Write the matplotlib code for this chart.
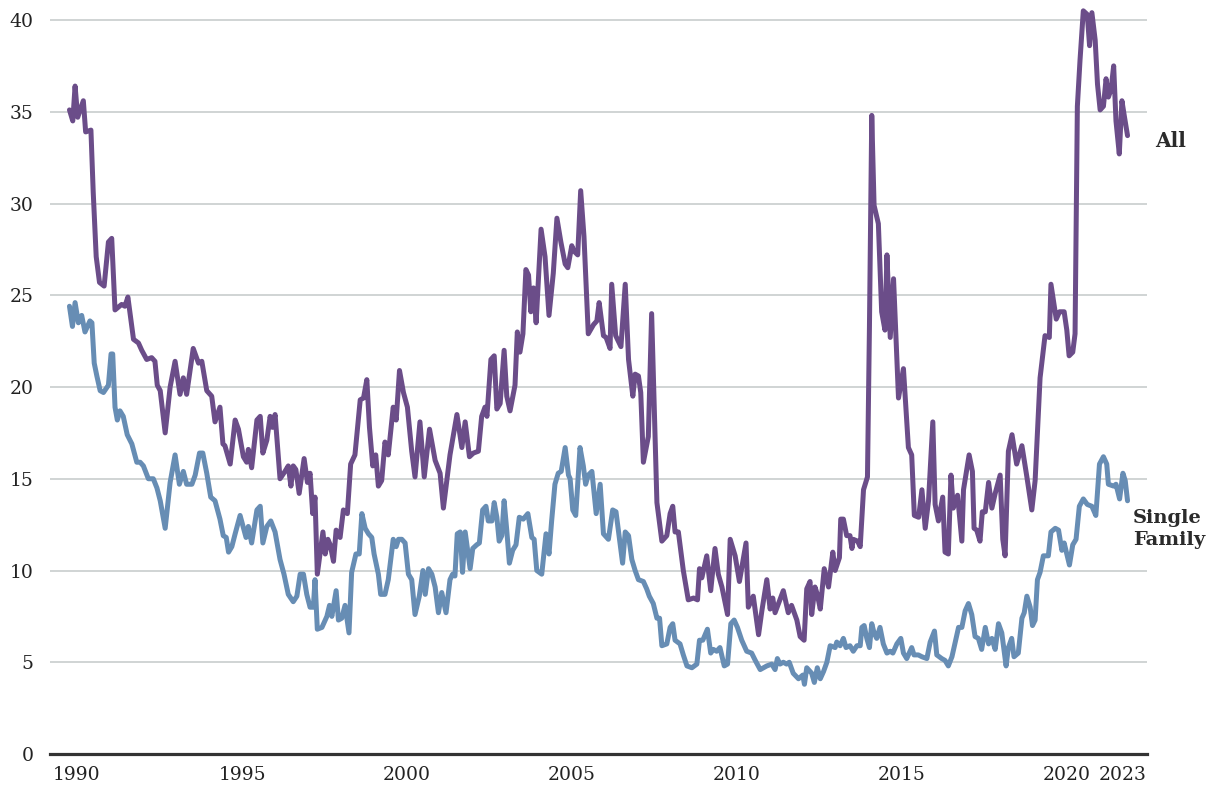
import matplotlib
matplotlib.use("Agg")
import matplotlib.pyplot as plt

# ---------------- data (decimal-year positions, values) ----------------
all_years = [1989.77, 1989.87, 1989.94, 1990.02, 1990.19, 1990.26, 1990.42, 1990.49, 1990.58, 1990.68,
             1990.82, 1990.95, 1991.05, 1991.15, 1991.35, 1991.45, 1991.54, 1991.71, 1991.86, 1991.96,
             1992.11, 1992.26, 1992.36, 1992.43, 1992.52, 1992.67, 1992.82, 1992.97, 1993.12, 1993.22,
             1993.32, 1993.52, 1993.68, 1993.78, 1993.93, 1994.08, 1994.18, 1994.33, 1994.42, 1994.48,
             1994.64, 1994.79, 1994.89, 1995.04, 1995.14, 1995.19, 1995.29, 1995.45, 1995.55, 1995.63,
             1995.75, 1995.85, 1995.92, 1996.00, 1996.15, 1996.30, 1996.40, 1996.48, 1996.55, 1996.63,
             1996.73, 1996.88, 1996.98, 1997.06, 1997.14, 1997.21, 1997.28, 1997.45, 1997.52, 1997.60,
             1997.67, 1997.77, 1997.85, 1997.97, 1998.07, 1998.19, 1998.29, 1998.42, 1998.58, 1998.68,
             1998.78, 1998.86, 1998.96, 1999.05, 1999.13, 1999.23, 1999.33, 1999.43, 1999.58, 1999.67,
             1999.77, 1999.89, 2000.01, 2000.14, 2000.24, 2000.39, 2000.52, 2000.68, 2000.85, 2001.00,
             2001.10, 2001.30, 2001.51, 2001.66, 2001.76, 2001.89, 2002.01, 2002.16, 2002.26, 2002.36,
             2002.42, 2002.54, 2002.64, 2002.72, 2002.82, 2002.94, 2003.02, 2003.12, 2003.27, 2003.34,
             2003.42, 2003.51, 2003.60, 2003.68, 2003.75, 2003.83, 2003.91, 2004.06, 2004.18, 2004.30,
             2004.43, 2004.54, 2004.66, 2004.79, 2004.87, 2004.99, 2005.06, 2005.17, 2005.26, 2005.36,
             2005.49, 2005.65, 2005.75, 2005.82, 2005.95, 2006.03, 2006.15, 2006.20, 2006.32, 2006.48,
             2006.61, 2006.71, 2006.84, 2006.91, 2007.01, 2007.08, 2007.16, 2007.31, 2007.41, 2007.57,
             2007.72, 2007.87, 2007.97, 2008.05, 2008.12, 2008.22, 2008.37, 2008.52, 2008.68, 2008.80,
             2008.86, 2008.93, 2009.08, 2009.20, 2009.33, 2009.43, 2009.54, 2009.71, 2009.79, 2009.94,
             2010.07, 2010.27, 2010.34, 2010.49, 2010.65, 2010.75, 2010.90, 2011.00, 2011.08, 2011.15,
             2011.40, 2011.55, 2011.65, 2011.81, 2011.91, 2012.03, 2012.11, 2012.21, 2012.26, 2012.36,
             2012.43, 2012.52, 2012.64, 2012.77, 2012.90, 2012.97, 2013.10, 2013.14, 2013.22, 2013.32,
             2013.42, 2013.48, 2013.52, 2013.65, 2013.73, 2013.83, 2013.95, 2014.01, 2014.08, 2014.15,
             2014.28, 2014.38, 2014.48, 2014.54, 2014.64, 2014.74, 2014.89, 2015.04, 2015.19, 2015.29,
             2015.37, 2015.50, 2015.60, 2015.70, 2015.80, 2015.93, 2016.00, 2016.10, 2016.23, 2016.30,
             2016.40, 2016.48, 2016.55, 2016.68, 2016.81, 2016.86, 2017.03, 2017.13, 2017.18, 2017.26,
             2017.36, 2017.43, 2017.52, 2017.62, 2017.72, 2017.82, 2017.97, 2018.05, 2018.12, 2018.22,
             2018.33, 2018.47, 2018.63, 2018.78, 2018.93, 2019.03, 2019.18, 2019.33, 2019.46, 2019.51,
             2019.67, 2019.77, 2019.91, 2019.99, 2020.06, 2020.17, 2020.24, 2020.31, 2020.39, 2020.49,
             2020.61, 2020.68, 2020.75, 2020.85, 2020.92, 2021.00, 2021.10, 2021.18, 2021.25, 2021.33,
             2021.41, 2021.48, 2021.58, 2021.66, 2021.73, 2021.83]
all_vals = [35.1, 34.5, 36.4, 34.7, 35.6, 33.9, 34.0, 30.6, 27.1, 25.7,
            25.5, 27.9, 28.1, 24.2, 24.5, 24.4, 24.9, 22.6, 22.4, 22.0,
            21.5, 21.6, 21.4, 20.1, 19.8, 17.5, 20.0, 21.4, 19.6, 20.5,
            19.6, 22.1, 21.3, 21.4, 19.8, 19.5, 18.1, 18.9, 16.9, 16.8,
            15.8, 18.2, 17.7, 16.2, 15.9, 16.6, 15.6, 18.2, 18.4, 16.4,
            17.1, 18.4, 17.8, 18.5, 15.0, 15.4, 15.7, 14.6, 15.7, 15.5,
            14.2, 16.1, 14.8, 15.3, 13.1, 14.0, 9.8, 12.1, 10.9, 11.7,
            11.4, 10.5, 12.2, 11.8, 13.3, 13.1, 15.8, 16.3, 19.3, 19.4,
            20.4, 17.8, 15.7, 16.3, 14.6, 14.9, 17.0, 16.3, 18.9, 18.2,
            20.9, 19.7, 18.9, 16.5, 15.1, 18.1, 15.1, 17.7, 16.0, 15.3,
            13.4, 16.3, 18.5, 16.7, 18.1, 16.2, 16.4, 16.5, 18.4, 18.9,
            18.4, 21.5, 21.7, 18.8, 19.1, 22.0, 19.5, 18.7, 20.1, 23.0,
            21.9, 22.9, 26.4, 26.1, 24.1, 25.4, 23.5, 28.6, 27.1, 23.9,
            26.2, 29.2, 27.9, 26.7, 26.5, 27.7, 27.4, 27.2, 30.7, 28.2,
            22.9, 23.4, 23.6, 24.6, 22.8, 22.7, 22.1, 25.6, 22.8, 22.2,
            25.6, 21.5, 19.5, 20.7, 20.6, 19.7, 15.9, 17.3, 24.0, 13.7,
            11.6, 11.9, 13.1, 13.5, 12.1, 12.1, 10.0, 8.4, 8.5, 8.4,
            10.1, 9.6, 10.8, 8.9, 11.2, 9.8, 9.1, 7.6, 11.7, 10.8,
            9.4, 11.5, 8.0, 8.6, 6.5, 7.8, 9.5, 7.9, 8.5, 7.7,
            8.9, 7.7, 8.1, 7.3, 6.4, 6.2, 9.0, 9.4, 7.6, 9.1,
            8.7, 7.9, 10.1, 9.1, 11.0, 10.0, 10.7, 12.8, 12.8, 11.9,
            11.9, 11.2, 11.7, 11.6, 11.3, 14.4, 15.1, 23.3, 34.8, 29.9,
            28.9, 24.1, 23.1, 27.2, 22.7, 25.9, 19.4, 21.0, 16.7, 16.3,
            13.0, 12.9, 14.4, 12.3, 13.8, 18.1, 13.6, 12.7, 14.0, 11.0,
            10.9, 15.2, 13.4, 14.1, 11.6, 14.4, 16.3, 15.4, 12.3, 12.2,
            11.6, 13.2, 13.2, 14.8, 13.4, 14.2, 15.2, 11.7, 10.8, 16.5,
            17.4, 15.8, 16.8, 15.1, 13.3, 14.9, 20.5, 22.8, 22.7, 25.6,
            23.7, 24.1, 24.1, 23.1, 21.7, 21.9, 22.9, 35.3, 37.8, 40.5,
            40.3, 38.6, 40.4, 38.9, 36.5, 35.1, 35.3, 36.8, 35.8, 36.2,
            37.5, 34.5, 32.7, 35.6, 34.8, 33.7]

sf_years = [1989.77, 1989.86, 1989.94, 1990.04, 1990.14, 1990.24, 1990.39, 1990.45, 1990.52, 1990.60,
            1990.70, 1990.80, 1990.95, 1991.03, 1991.08, 1991.15, 1991.22, 1991.30, 1991.40, 1991.52,
            1991.66, 1991.81, 1991.91, 1992.01, 1992.16, 1992.31, 1992.42, 1992.52, 1992.67, 1992.82,
            1992.97, 1993.10, 1993.22, 1993.32, 1993.48, 1993.58, 1993.71, 1993.81, 1993.93, 1994.05,
            1994.18, 1994.33, 1994.43, 1994.52, 1994.59, 1994.69, 1994.79, 1994.94, 1995.12, 1995.19,
            1995.29, 1995.45, 1995.55, 1995.63, 1995.75, 1995.87, 1996.00, 1996.15, 1996.27, 1996.40,
            1996.55, 1996.66, 1996.76, 1996.86, 1996.96, 1997.06, 1997.16, 1997.21, 1997.28, 1997.42,
            1997.57, 1997.65, 1997.72, 1997.85, 1997.92, 1998.02, 1998.12, 1998.24, 1998.32, 1998.45,
            1998.55, 1998.63, 1998.73, 1998.83, 1998.93, 1999.00, 1999.13, 1999.20, 1999.33, 1999.43,
            1999.54, 1999.58, 1999.67, 1999.74, 1999.84, 1999.94, 2000.04, 2000.14, 2000.24, 2000.37,
            2000.48, 2000.55, 2000.65, 2000.75, 2000.85, 2000.95, 2001.05, 2001.18, 2001.30, 2001.38,
            2001.45, 2001.52, 2001.61, 2001.68, 2001.76, 2001.91, 2001.99, 2002.11, 2002.19, 2002.29,
            2002.39, 2002.46, 2002.57, 2002.64, 2002.72, 2002.79, 2002.87, 2002.94, 2003.02, 2003.10,
            2003.20, 2003.30, 2003.40, 2003.52, 2003.66, 2003.78, 2003.85, 2003.93, 2004.08, 2004.21,
            2004.30, 2004.38, 2004.48, 2004.58, 2004.67, 2004.79, 2004.89, 2004.94, 2005.02, 2005.11,
            2005.24, 2005.34, 2005.41, 2005.49, 2005.60, 2005.73, 2005.85, 2005.95, 2006.10, 2006.23,
            2006.33, 2006.45, 2006.53, 2006.61, 2006.71, 2006.81, 2006.91, 2007.01, 2007.16, 2007.26,
            2007.34, 2007.46, 2007.57, 2007.65, 2007.72, 2007.87, 2007.97, 2008.05, 2008.12, 2008.27,
            2008.37, 2008.48, 2008.63, 2008.78, 2008.86, 2008.96, 2009.10, 2009.20, 2009.28, 2009.38,
            2009.48, 2009.61, 2009.71, 2009.81, 2009.91, 2010.01, 2010.14, 2010.29, 2010.44, 2010.55,
            2010.70, 2010.90, 2011.05, 2011.15, 2011.22, 2011.30, 2011.40, 2011.50, 2011.58, 2011.70,
            2011.86, 2011.99, 2012.04, 2012.11, 2012.26, 2012.34, 2012.43, 2012.52, 2012.62, 2012.72,
            2012.82, 2012.97, 2013.02, 2013.12, 2013.22, 2013.30, 2013.42, 2013.52, 2013.63, 2013.73,
            2013.78, 2013.85, 2013.93, 2014.01, 2014.08, 2014.15, 2014.23, 2014.33, 2014.43, 2014.54,
            2014.64, 2014.72, 2014.84, 2014.96, 2015.04, 2015.14, 2015.29, 2015.36, 2015.49, 2015.60,
            2015.75, 2015.85, 2015.98, 2016.05, 2016.20, 2016.30, 2016.40, 2016.51, 2016.61, 2016.71,
            2016.81, 2016.91, 2017.01, 2017.11, 2017.21, 2017.31, 2017.41, 2017.52, 2017.62, 2017.72,
            2017.82, 2017.92, 2018.02, 2018.15, 2018.22, 2018.32, 2018.39, 2018.52, 2018.63, 2018.70,
            2018.78, 2018.88, 2018.95, 2019.03, 2019.10, 2019.18, 2019.28, 2019.43, 2019.51, 2019.64,
            2019.74, 2019.84, 2019.91, 2019.99, 2020.07, 2020.17, 2020.27, 2020.37, 2020.49, 2020.61,
            2020.75, 2020.87, 2020.98, 2021.10, 2021.20, 2021.25, 2021.41, 2021.48, 2021.59, 2021.69,
            2021.76, 2021.83]
sf_vals = [24.4, 23.3, 24.6, 23.5, 23.9, 23.0, 23.6, 23.5, 21.3, 20.6,
           19.8, 19.7, 20.1, 21.8, 21.8, 18.9, 18.2, 18.7, 18.4, 17.4,
           16.9, 15.9, 15.9, 15.7, 15.0, 15.0, 14.5, 13.8, 12.3, 14.8,
           16.3, 14.7, 15.4, 14.7, 14.7, 15.2, 16.4, 16.4, 15.3, 14.0,
           13.8, 12.8, 11.9, 11.8, 11.0, 11.3, 12.0, 13.0, 11.8, 12.4,
           11.5, 13.3, 13.5, 11.5, 12.4, 12.7, 12.1, 10.6, 9.8, 8.7,
           8.3, 8.6, 9.8, 9.8, 8.7, 8.0, 8.0, 9.5, 6.8, 6.9,
           7.5, 8.1, 7.5, 8.9, 7.3, 7.4, 8.1, 6.6, 9.9, 10.9,
           10.9, 13.1, 12.3, 12.0, 11.8, 10.9, 9.8, 8.7, 8.7, 9.5,
           11.1, 11.7, 11.3, 11.7, 11.7, 11.5, 9.8, 9.5, 7.6, 8.6,
           10.0, 8.7, 10.1, 9.8, 9.1, 7.7, 8.8, 7.7, 9.5, 9.8,
           9.7, 12.0, 12.1, 9.9, 12.1, 10.1, 11.2, 11.4, 11.5, 13.3,
           13.5, 12.7, 12.7, 13.7, 12.9, 11.6, 11.9, 13.8, 12.2, 10.4,
           11.1, 11.4, 12.9, 12.8, 13.1, 11.8, 11.7, 10.0, 9.8, 12.0,
           10.9, 12.7, 14.7, 15.3, 15.4, 16.7, 15.2, 15.0, 13.3, 13.0,
           16.7, 15.7, 14.7, 15.2, 15.4, 13.1, 14.7, 12.0, 11.7, 13.3,
           13.2, 11.5, 10.4, 12.1, 11.9, 10.6, 10.0, 9.5, 9.4, 9.0,
           8.6, 8.2, 7.4, 7.4, 5.9, 6.0, 6.9, 7.1, 6.2, 6.0,
           5.4, 4.8, 4.7, 4.9, 6.2, 6.2, 6.8, 5.5, 5.7, 5.6,
           5.8, 4.8, 4.9, 7.1, 7.3, 6.9, 6.2, 5.6, 5.5, 5.1,
           4.6, 4.8, 4.9, 4.6, 5.2, 4.9, 5.0, 4.9, 5.0, 4.4,
           4.1, 4.3, 3.8, 4.7, 4.4, 3.9, 4.7, 4.1, 4.5, 5.0,
           5.9, 5.8, 6.1, 5.9, 6.3, 5.8, 5.9, 5.6, 5.9, 5.9,
           6.9, 7.0, 6.3, 5.8, 7.1, 6.6, 6.3, 6.9, 6.0, 5.5,
           5.6, 5.5, 6.0, 6.3, 5.5, 5.2, 5.8, 5.4, 5.4, 5.3,
           5.2, 6.1, 6.7, 5.4, 5.2, 5.1, 4.8, 5.3, 6.1, 6.9,
           6.9, 7.8, 8.2, 7.6, 6.4, 6.3, 5.7, 6.9, 6.0, 6.3,
           5.7, 7.1, 6.6, 4.8, 5.8, 6.3, 5.3, 5.5, 7.4, 7.7,
           8.6, 8.0, 7.0, 7.3, 9.5, 9.9, 10.8, 10.8, 12.1, 12.3,
           12.2, 11.1, 11.5, 10.9, 10.3, 11.4, 11.7, 13.5, 13.9, 13.6,
           13.5, 13.0, 15.8, 16.2, 15.8, 14.7, 14.6, 14.7, 13.9, 15.3,
           14.9, 13.8]

x_tick_pos = [1990, 1995, 2000, 2005, 2010, 2015, 2020, 2021.67]
x_tick_labels = ["1990", "1995", "2000", "2005", "2010", "2015", "2020", "2023"]
y_ticks = [0, 5, 10, 15, 20, 25, 30, 35, 40]

series_labels = ["All", "Single\nFamily"]

# ---------------- style ----------------
PURPLE = "#6b4d89"
BLUE = "#678db4"
GRID = "#c8cdcd"
TEXT = "#2b2b2b"
FONT = "DejaVu Serif"

W, H = 1211, 789
fig = plt.figure(figsize=(W / 100, H / 100), dpi=100)
ax = fig.add_axes([50 / W, 35 / H, 1097 / W, 754 / H])

ax.set_xlim(1989.18, 2022.42)
ax.set_ylim(0, 41.09)

for v in y_ticks[1:]:
    ax.axhline(v, color=GRID, lw=1.2, zorder=1)

ax.plot(sf_years, sf_vals, color=BLUE, lw=3.6, solid_joinstyle="round",
        solid_capstyle="round", zorder=3, clip_on=False)
ax.plot(all_years, all_vals, color=PURPLE, lw=3.6, solid_joinstyle="round",
        solid_capstyle="round", zorder=4, clip_on=False)

for s in ["top", "right", "left"]:
    ax.spines[s].set_visible(False)
ax.spines["bottom"].set_color("#333333")
ax.spines["bottom"].set_linewidth(2.3)
ax.spines["bottom"].set_zorder(5)

ax.set_yticks(y_ticks)
ax.set_yticklabels([str(v) for v in y_ticks])
ax.set_xticks(x_tick_pos)
ax.set_xticklabels(x_tick_labels)
ax.tick_params(axis="y", length=0, pad=12, labelsize=13.5, labelcolor="#222222")
ax.tick_params(axis="x", length=0, pad=9, labelsize=13.5, labelcolor="#222222")
for lab in ax.get_xticklabels() + ax.get_yticklabels():
    lab.set_fontfamily(FONT)

ax.text(2022.67, 33.4, series_labels[0], fontsize=14.5, fontweight="bold",
        family=FONT, color=TEXT, ha="left", va="center", clip_on=False)
ax.text(2021.99, 12.25, series_labels[1], fontsize=14, fontweight="bold",
        family=FONT, color=TEXT, ha="left", va="center", linespacing=1.25,
        clip_on=False)

fig.savefig("out.png", dpi=100)
